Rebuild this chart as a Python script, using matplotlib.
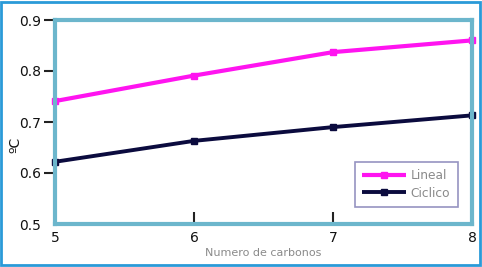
import numpy as np
import matplotlib.pyplot as plt
from matplotlib.patches import Rectangle

carbonos = [5, 6, 7, 8]
lineal = [0.741, 0.791, 0.837, 0.860]
ciclico = [0.622, 0.663, 0.690, 0.713]

spine_color = "#6cb6cc"

fig = plt.figure(figsize=(4.82, 2.67), dpi=100)
ax = fig.add_axes([55/482, 1-224/267, (472-55)/482, (224-20)/267])

ax.plot(carbonos, lineal, color="#ff14f0", linewidth=3.0, marker="s", markersize=4.5,
        solid_capstyle="butt", label="Lineal", clip_on=False, zorder=3)
ax.plot(carbonos, ciclico, color="#0b0b3e", linewidth=2.8, marker="s", markersize=4.5,
        solid_capstyle="butt", label="Ciclico", clip_on=False, zorder=3)

ax.set_xlim(5, 8)
ax.set_ylim(0.5, 0.9)
ax.set_xticks(carbonos)
ax.set_yticks([0.5, 0.6, 0.7, 0.8, 0.9])
ax.set_yticklabels(["0.5", "0.6", "0.7", "0.8", "0.9"])

for s in ax.spines.values():
    s.set_color(spine_color)
    s.set_linewidth(3)
    s.set_zorder(4)

ax.tick_params(axis="y", direction="out", length=8, width=1.5, color="#222222",
               labelsize=10, labelcolor="#111111", pad=2)
ax.tick_params(axis="x", direction="in", length=9, width=1.5, color="#222222",
               labelsize=10, labelcolor="#111111", pad=5)
ax.yaxis.get_major_ticks()[0].tick1line.set_visible(False)
ax.xaxis.get_major_ticks()[0].tick1line.set_visible(False)
ax.xaxis.get_major_ticks()[-1].tick1line.set_visible(False)

ax.set_xlabel("Numero de carbonos", fontsize=8, color="#8a8a8a", labelpad=2)
ax.set_ylabel("ºC", fontsize=10, color="#111111")
ax.yaxis.set_label_coords(-0.078, 0.387)

leg = ax.legend(loc="lower right", bbox_to_anchor=(0.966, 0.083), borderaxespad=0,
                fontsize=8.8, frameon=True, fancybox=False, handlelength=3.6,
                borderpad=0.6, labelspacing=0.35, handletextpad=0.4)
leg.get_frame().set_edgecolor("#7b79b2")
leg.get_frame().set_linewidth(1.2)
for t in leg.get_texts():
    t.set_color("#8a8a8a")

fig.patches.append(Rectangle((0.003, 0.006), 0.993, 0.988, transform=fig.transFigure,
                             fill=False, edgecolor="#2a9ad8", linewidth=2))

plt.savefig("out.png", dpi=100)
